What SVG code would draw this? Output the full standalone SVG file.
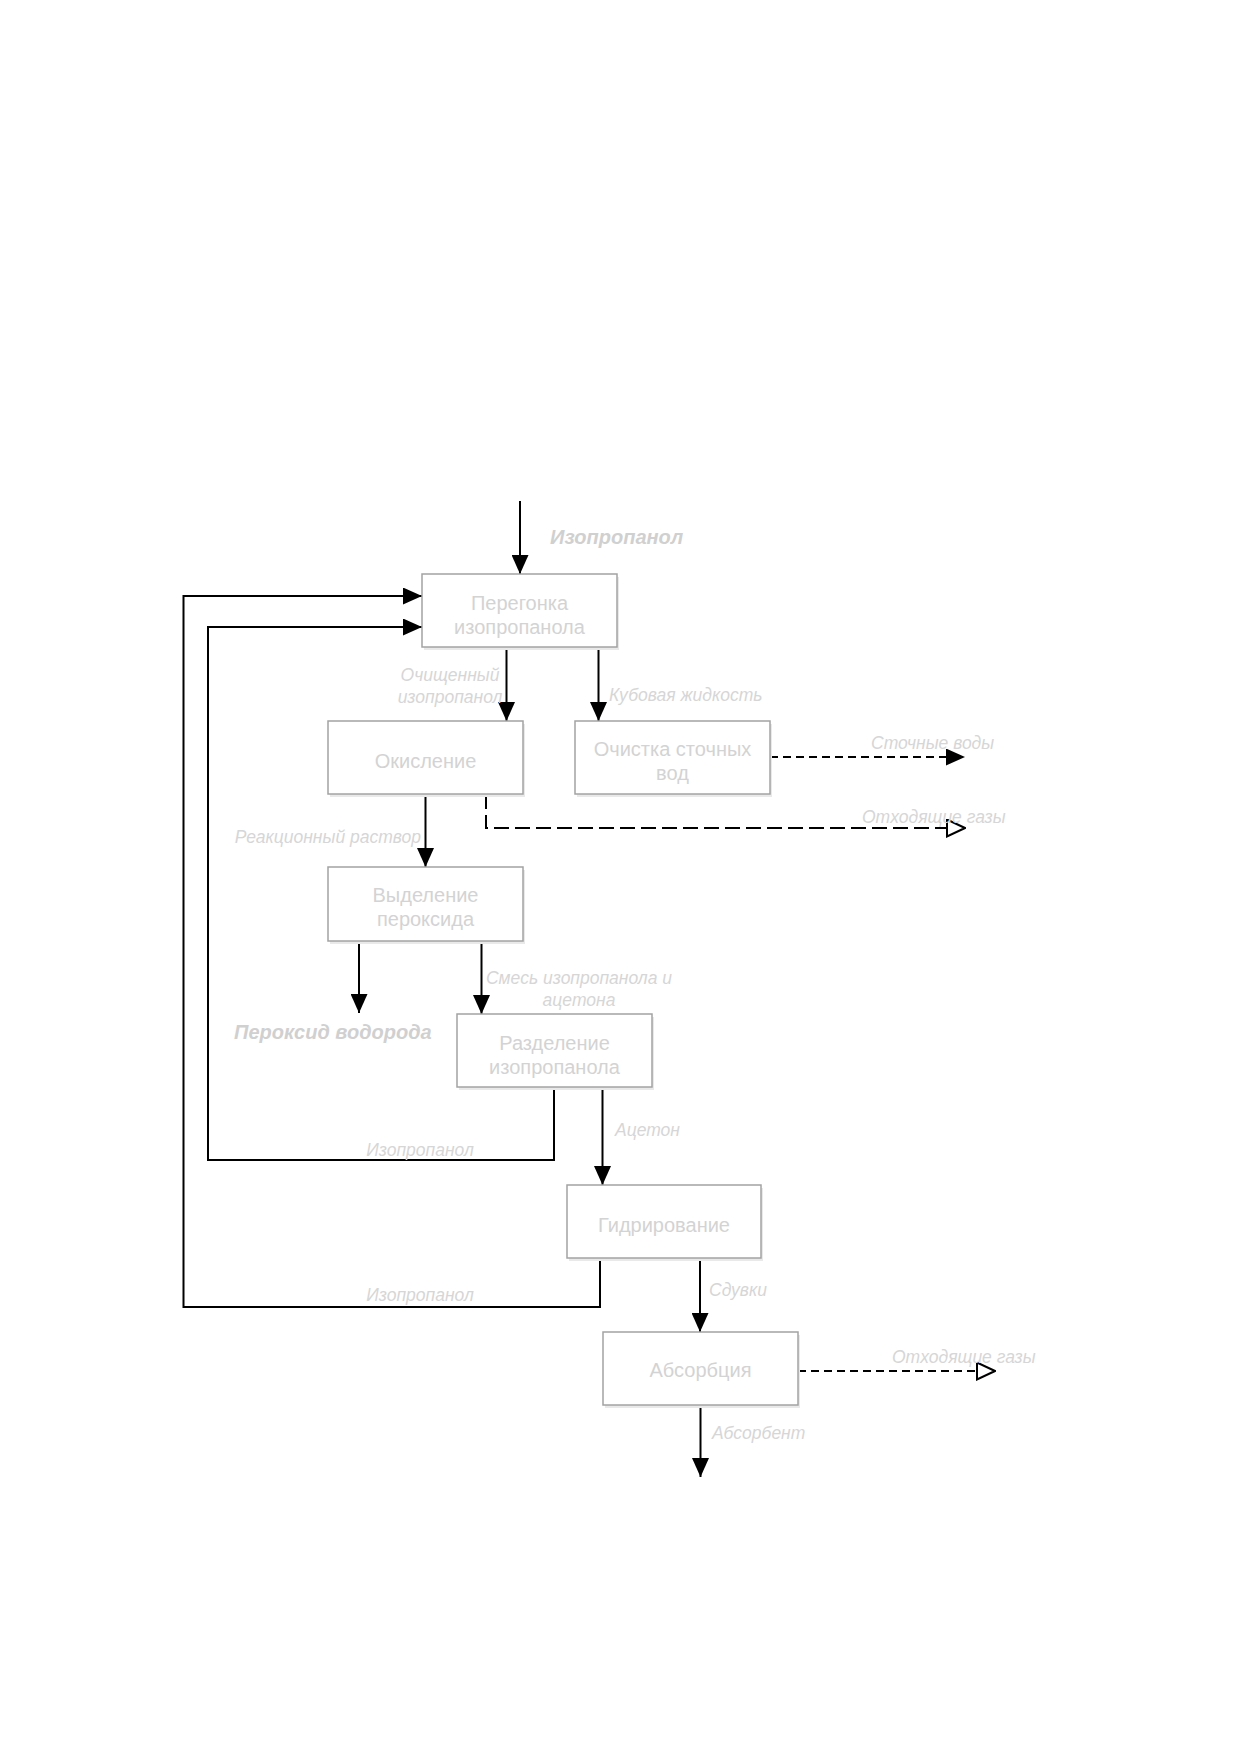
<svg xmlns="http://www.w3.org/2000/svg" width="1241" height="1755" viewBox="0 0 1241 1755">
<style>
.box{fill:#ffffff;stroke:#a3a3a3;stroke-width:1.5}
.sh{fill:#e9e9e9}
.bt{font-family:"Liberation Sans",Arial,sans-serif;font-size:20px;fill:#d3d3d3;text-anchor:middle}
.lb{font-family:"Liberation Sans",Arial,sans-serif;font-size:17.5px;font-style:italic;fill:#d6d6d6}
.bl{font-family:"Liberation Sans",Arial,sans-serif;font-size:20px;font-style:italic;font-weight:bold;fill:#d0d0d0}
.c{fill:none;stroke:#000;stroke-width:2}
.d1{stroke-dasharray:8 5}
.d2{stroke-dasharray:15 6}
</style>
<defs>
<marker id="af" viewBox="0 0 19 17" refX="19" refY="8.5" markerWidth="19" markerHeight="17" markerUnits="userSpaceOnUse" orient="auto">
<path d="M0,0 L19,8.5 L0,17 Z" fill="#000"/>
</marker>
<marker id="ah" viewBox="0 0 20 19" refX="19" refY="9.5" markerWidth="20" markerHeight="19" markerUnits="userSpaceOnUse" orient="auto">
<path d="M1,1 L19,9.5 L1,18 Z" fill="#fff" stroke="#000" stroke-width="2"/>
</marker>
</defs>
<rect width="1241" height="1755" fill="#ffffff"/>
<g id="connectors">
<path class="c" d="M520,501 V574" marker-end="url(#af)"/>
<path class="c" d="M600,1258 V1307 H183.5 V596 H422" marker-end="url(#af)"/>
<path class="c" d="M554,1087 V1160 H208 V627 H422" marker-end="url(#af)"/>
<path class="c" d="M506.5,647 V721" marker-end="url(#af)"/>
<path class="c" d="M598.5,647 V721" marker-end="url(#af)"/>
<path class="c d1" d="M770,757 H965" marker-end="url(#af)"/>
<path class="c d2" d="M486,794 V828 H965" marker-end="url(#ah)"/>
<path class="c" d="M425.5,794 V867" marker-end="url(#af)"/>
<path class="c" d="M359,941 V1013" marker-end="url(#af)"/>
<path class="c" d="M481.5,941 V1014" marker-end="url(#af)"/>
<path class="c" d="M602.5,1087 V1185" marker-end="url(#af)"/>
<path class="c" d="M700,1258 V1332" marker-end="url(#af)"/>
<path class="c d1" d="M798,1371 H995" marker-end="url(#ah)"/>
<path class="c" d="M700.5,1405 V1477" marker-end="url(#af)"/>
</g>
<g id="labels">
<text class="bl" x="550" y="544">Изопропанол</text>
<text class="lb" x="450" y="681" text-anchor="middle">Очищенный</text>
<text class="lb" x="450" y="703" text-anchor="middle">изопропанол</text>
<text class="lb" x="609" y="701">Кубовая жидкость</text>
<text class="lb" x="871" y="749">Сточные воды</text>
<text class="lb" x="862" y="823">Отходящие газы</text>
<text class="lb" x="421" y="843" text-anchor="end">Реакционный раствор</text>
<text class="bl" x="234" y="1039">Пероксид водорода</text>
<text class="lb" x="579" y="984" text-anchor="middle">Смесь изопропанола и</text>
<text class="lb" x="579" y="1006" text-anchor="middle">ацетона</text>
<text class="lb" x="420" y="1156" text-anchor="middle">Изопропанол</text>
<text class="lb" x="615" y="1136">Ацетон</text>
<text class="lb" x="420" y="1301" text-anchor="middle">Изопропанол</text>
<text class="lb" x="709" y="1296">Сдувки</text>
<text class="lb" x="892" y="1363">Отходящие газы</text>
<text class="lb" x="712" y="1439">Абсорбент</text>
</g>
<g id="n1">
<rect class="sh" x="424" y="577" width="195" height="73"/>
<rect class="box" x="422" y="574" width="195" height="73"/>
<text class="bt" x="519.5" y="609.5">Перегонка</text>
<text class="bt" x="519.5" y="633.5">изопропанола</text>
</g>
<g id="n2">
<rect class="sh" x="330" y="724" width="195" height="73"/>
<rect class="box" x="328" y="721" width="195" height="73"/>
<text class="bt" x="425.5" y="768">Окисление</text>
</g>
<g id="n3">
<rect class="sh" x="577" y="724" width="195" height="73"/>
<rect class="box" x="575" y="721" width="195" height="73"/>
<text class="bt" x="672.5" y="756">Очистка сточных</text>
<text class="bt" x="672.5" y="780">вод</text>
</g>
<g id="n4">
<rect class="sh" x="330" y="870" width="195" height="74"/>
<rect class="box" x="328" y="867" width="195" height="74"/>
<text class="bt" x="425.5" y="902">Выделение</text>
<text class="bt" x="425.5" y="926">пероксида</text>
</g>
<g id="n5">
<rect class="sh" x="459" y="1017" width="195" height="73"/>
<rect class="box" x="457" y="1014" width="195" height="73"/>
<text class="bt" x="554.5" y="1049.5">Разделение</text>
<text class="bt" x="554.5" y="1073.5">изопропанола</text>
</g>
<g id="n6">
<rect class="sh" x="569" y="1188" width="194" height="73"/>
<rect class="box" x="567" y="1185" width="194" height="73"/>
<text class="bt" x="664" y="1232">Гидрирование</text>
</g>
<g id="n7">
<rect class="sh" x="605" y="1335" width="195" height="73"/>
<rect class="box" x="603" y="1332" width="195" height="73"/>
<text class="bt" x="700.5" y="1377">Абсорбция</text>
</g>
</svg>
